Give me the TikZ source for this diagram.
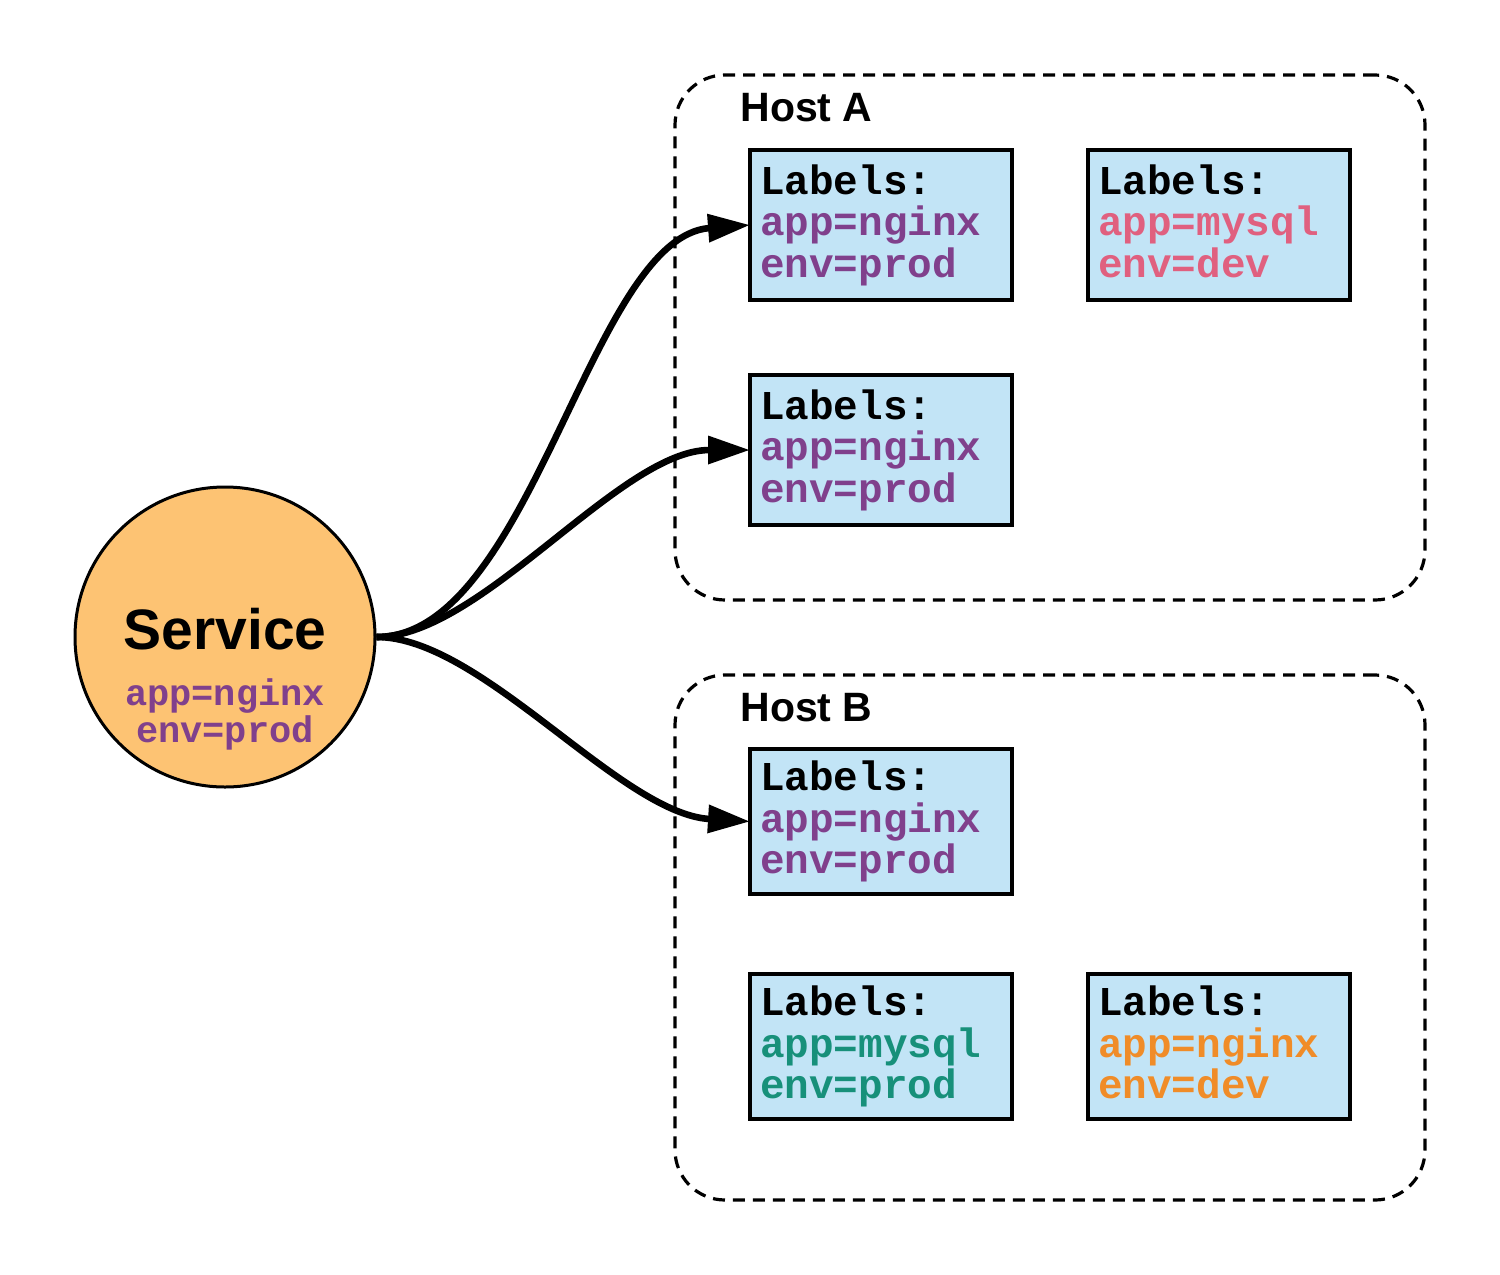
\documentclass[tikz,border=0pt]{standalone}
\usepackage{fontspec}
\setmainfont{Liberation Sans}
\newfontfamily\codefont{Liberation Mono}
\usetikzlibrary{arrows.meta}
\definecolor{svcfill}{HTML}{FDC373}
\definecolor{podfill}{HTML}{C2E4F6}
\definecolor{nginxprod}{HTML}{80408C}
\definecolor{mysqldev}{HTML}{E0607F}
\definecolor{mysqlprod}{HTML}{17907A}
\definecolor{nginxdev}{HTML}{F08C28}
\newcommand{\podlabels}[3]{Labels:\\\textcolor{#1}{app=#2}\\\textcolor{#1}{env=#3}\vphantom{p}}
\tikzset{
  host/.style={draw, dashed, dash pattern=on 6pt off 4pt, line width=1.6pt,
    rounded corners=25pt, minimum width=375pt, minimum height=262.5pt},
  hostlabel/.style={anchor=base west, inner sep=0pt,
    font=\bfseries\fontsize{20.5}{20.5}\selectfont},
  pod/.style={draw, line width=2pt, fill=podfill, anchor=north west,
    outer sep=0pt, minimum width=131pt, inner xsep=5pt, inner ysep=0pt,
    text width=121pt, align=left,
    font=\codefont\bfseries\fontsize{20.5}{20.75}\selectfont},
  svc/.style={circle, draw, line width=1.5pt, fill=svcfill, minimum size=150pt},
  link/.style={line width=3.3pt, -{Triangle[length=21pt,width=13.5pt]}}
}
\begin{document}
\begin{tikzpicture}[x=0.5pt, y=-0.5pt]
  \useasboundingbox (0,0) rectangle (1500,1275);
  % hosts
  \node[host] (hostA) at (1050,337.5) {};
  \node[host] (hostB) at (1050,937.5) {};
  \node[hostlabel] (hostAlabel) at (740,121) {Host A};
  \node[hostlabel] (hostBlabel) at (740,721) {Host B};
  % pods
  \node[pod, minimum height=75pt] (a1) at (750,150) {\podlabels{nginxprod}{nginx}{prod}};
  \node[pod, minimum height=75pt] (a2) at (1088,150) {\podlabels{mysqldev}{mysql}{dev}};
  \node[pod, minimum height=75pt] (a3) at (750,375) {\podlabels{nginxprod}{nginx}{prod}};
  \node[pod, minimum height=72.5pt] (b1) at (750,749) {\podlabels{nginxprod}{nginx}{prod}};
  \node[pod, minimum height=72.5pt] (b2) at (750,974) {\podlabels{mysqlprod}{mysql}{prod}};
  \node[pod, minimum height=72.5pt] (b3) at (1088,974) {\podlabels{nginxdev}{nginx}{dev}};
  % service
  \node[svc, label={[name=svctext, align=center, yshift=-21pt,
      font=\codefont\bfseries\fontsize{18.5}{18.5}\selectfont,
      text=nginxprod]center:{\textcolor{black}{\normalfont\bfseries\fontsize{28.5}{28.5}\selectfont Service}\\[9.5pt]app=nginx\\env=prod}}]
    (svc) at (225,637) {};
  % selector links
  \draw[link] (svc.east) .. controls +(155,0) and +(-160,12) .. (a1.west);
  \draw[link] (svc.east) .. controls +(105,0) and +(-130,0) .. (a3.west);
  \draw[link] (svc.east) .. controls +(105,0) and +(-130,-8) .. (b1.west);
\end{tikzpicture}
\end{document}
